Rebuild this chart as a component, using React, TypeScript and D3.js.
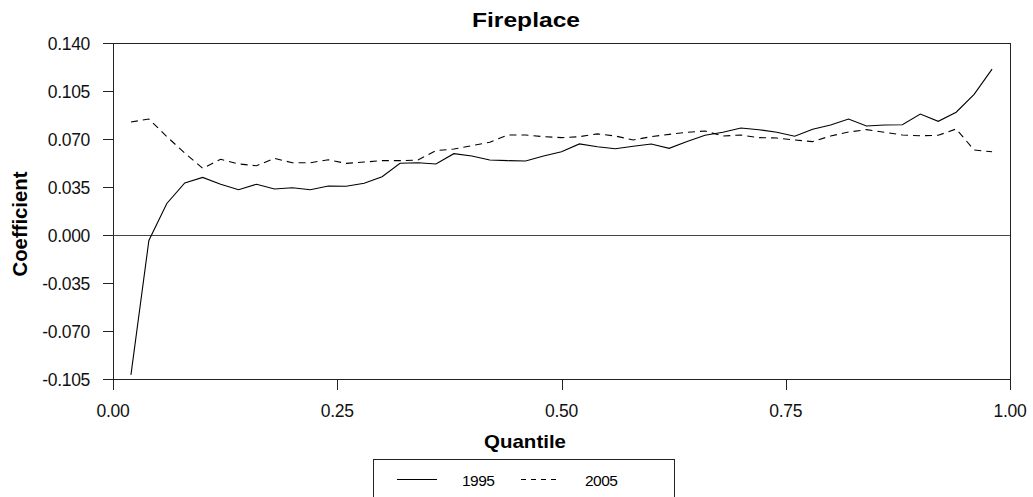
import React, { useEffect, useRef } from 'react';
import * as d3 from 'd3';

const quantiles = [
  0.02, 0.04, 0.06, 0.08, 0.10, 0.12, 0.14, 0.16, 0.18, 0.20,
  0.22, 0.24, 0.26, 0.28, 0.30, 0.32, 0.34, 0.36, 0.38, 0.40,
  0.42, 0.44, 0.46, 0.48, 0.50, 0.52, 0.54, 0.56, 0.58, 0.60,
  0.62, 0.64, 0.66, 0.68, 0.70, 0.72, 0.74, 0.76, 0.78, 0.80,
  0.82, 0.84, 0.86, 0.88, 0.90, 0.92, 0.94, 0.96, 0.98,
];

const s1995 = [
  -0.102, -0.004, 0.023, 0.038, 0.042, 0.037, 0.033, 0.037, 0.0335, 0.0345,
  0.033, 0.0357, 0.0355, 0.0377, 0.0425, 0.0523, 0.0527, 0.0518, 0.0593, 0.0576,
  0.0547, 0.0542, 0.054, 0.0576, 0.0607, 0.0664, 0.0644, 0.0629, 0.0647, 0.0664,
  0.0632, 0.0681, 0.0727, 0.0749, 0.078, 0.0768, 0.0749, 0.072, 0.0771, 0.0802,
  0.0846, 0.0795, 0.0802, 0.0804, 0.0882, 0.0829, 0.0895, 0.1026, 0.121,
];

const s2005 = [
  0.0824, 0.0846, 0.0717, 0.0598, 0.0486, 0.0552, 0.0518, 0.0505, 0.0559, 0.0527,
  0.0527, 0.0549, 0.0522, 0.0532, 0.0542, 0.0542, 0.0547, 0.0615, 0.0627, 0.0651,
  0.0676, 0.0729, 0.0729, 0.0717, 0.071, 0.0717, 0.0737, 0.0722, 0.0693, 0.0717,
  0.0734, 0.0749, 0.0758, 0.0722, 0.0729, 0.071, 0.0707, 0.0693, 0.0681, 0.0722,
  0.0751, 0.0768, 0.0749, 0.0729, 0.0724, 0.0727, 0.0773, 0.062, 0.0607,
];

const xTicks = [0, 0.25, 0.5, 0.75, 1];
const yTicks = [-0.105, -0.07, -0.035, 0, 0.035, 0.07, 0.105, 0.14];

const W = 1033;
const H = 497;
const FONT = 'Liberation Sans, Arial, Helvetica, sans-serif';

export default function App() {
  const ref = useRef<SVGSVGElement>(null);

  useEffect(() => {
    const svg = d3.select(ref.current);
    svg.selectAll('*').remove();

    const left = 113, right = 1010, top = 43, bottom = 379;
    const x = d3.scaleLinear().domain([0, 1]).range([left, right]);
    const y = d3.scaleLinear().domain([-0.105, 0.14]).range([bottom, top]);

    // plot frame
    svg.append('rect')
      .attr('x', left + 0.5).attr('y', top + 0.5)
      .attr('width', right - left).attr('height', bottom - top)
      .attr('fill', 'none').attr('stroke', '#222').attr('stroke-width', 1);

    // zero line
    svg.append('line')
      .attr('x1', left).attr('x2', right)
      .attr('y1', Math.round(y(0)) + 0.5).attr('y2', Math.round(y(0)) + 0.5)
      .attr('stroke', '#444');

    // y axis ticks + labels (plain hyphen for negatives, like the original)
    const gy = svg.append('g').attr('font-family', FONT).attr('font-size', 17.5).attr('letter-spacing', -0.3);
    yTicks.forEach((t) => {
      const yy = Math.round(y(t)) + 0.5;
      gy.append('line').attr('x1', left - 10).attr('x2', left).attr('y1', yy).attr('y2', yy).attr('stroke', '#222');
      gy.append('text')
        .attr('x', 90).attr('y', y(t) + 6.5)
        .attr('text-anchor', 'end').attr('fill', '#111')
        .text(t.toFixed(3));
    });

    // x axis ticks + labels
    const gx = svg.append('g').attr('font-family', FONT).attr('font-size', 17.5).attr('letter-spacing', -0.3);
    xTicks.forEach((t) => {
      const xx = Math.round(x(t)) + 0.5;
      gx.append('line').attr('x1', xx).attr('x2', xx).attr('y1', bottom).attr('y2', bottom + 11).attr('stroke', '#222');
      gx.append('text')
        .attr('x', x(t)).attr('y', 417)
        .attr('text-anchor', 'middle').attr('fill', '#111')
        .text(t.toFixed(2));
    });

    const line = d3.line<number>()
      .x((d, i) => x(quantiles[i]))
      .y((d) => y(d));

    svg.append('path')
      .attr('d', line(s1995))
      .attr('fill', 'none').attr('stroke', '#000').attr('stroke-width', 1.1);

    svg.append('path')
      .attr('d', line(s2005))
      .attr('fill', 'none').attr('stroke', '#000').attr('stroke-width', 1.1)
      .attr('stroke-dasharray', '7,5');

    // titles
    svg.append('text')
      .attr('x', 526).attr('y', 27)
      .attr('text-anchor', 'middle')
      .attr('font-family', FONT).attr('font-weight', 'bold').attr('font-size', 21)
      .attr('textLength', 108).attr('lengthAdjust', 'spacingAndGlyphs')
      .text('Fireplace');

    svg.append('text')
      .attr('x', 525).attr('y', 448)
      .attr('text-anchor', 'middle')
      .attr('font-family', FONT).attr('font-weight', 'bold').attr('font-size', 18.5)
      .attr('textLength', 82).attr('lengthAdjust', 'spacingAndGlyphs')
      .text('Quantile');

    svg.append('text')
      .attr('transform', 'translate(27,224) rotate(-90)')
      .attr('text-anchor', 'middle')
      .attr('font-family', FONT).attr('font-weight', 'bold').attr('font-size', 19.5)
      .attr('textLength', 105).attr('lengthAdjust', 'spacingAndGlyphs')
      .text('Coefficient');

    // legend
    const lg = svg.append('g');
    lg.append('rect')
      .attr('x', 373.5).attr('y', 459.5)
      .attr('width', 301).attr('height', 60)
      .attr('fill', '#fff').attr('stroke', '#222');
    lg.append('line').attr('x1', 397).attr('x2', 437).attr('y1', 479.5).attr('y2', 479.5).attr('stroke', '#000');
    lg.append('line').attr('x1', 521).attr('x2', 561).attr('y1', 479.5).attr('y2', 479.5)
      .attr('stroke', '#000').attr('stroke-dasharray', '5,5');
    lg.append('text').attr('x', 462).attr('y', 486)
      .attr('font-family', FONT).attr('font-size', 15.5).attr('letter-spacing', -0.5).text('1995');
    lg.append('text').attr('x', 585).attr('y', 486)
      .attr('font-family', FONT).attr('font-size', 15.5).attr('letter-spacing', -0.5).text('2005');
  }, []);

  return (
    <svg
      ref={ref}
      width={W}
      height={H}
      style={{ position: 'absolute', left: 0, top: 0, background: '#fff' }}
    />
  );
}
